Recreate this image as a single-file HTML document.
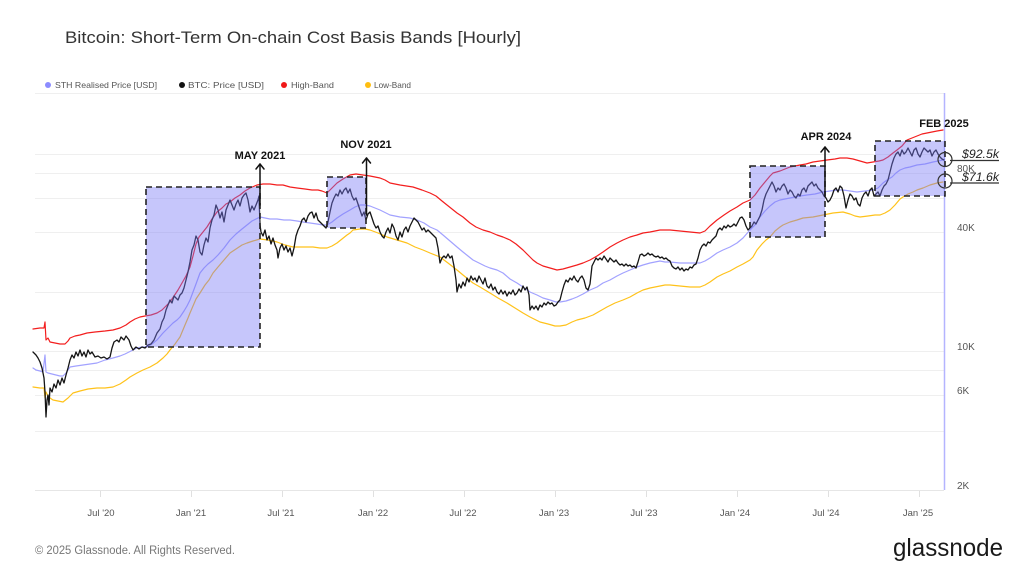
<!DOCTYPE html>
<html>
<head>
<meta charset="utf-8">
<style>
  html,body{margin:0;padding:0;background:#fff;}
  body{width:1024px;height:576px;overflow:hidden;}
  svg{display:block;}
  text{font-family:"Liberation Sans", sans-serif;}
</style>
</head>
<body>
<svg width="1024" height="576" viewBox="0 0 1024 576" xmlns="http://www.w3.org/2000/svg">
  <rect width="1024" height="576" fill="#fff"/>

  <!-- Title -->
  <text x="65" y="43" font-size="17" fill="#333" textLength="456" lengthAdjust="spacingAndGlyphs">Bitcoin: Short-Term On-chain Cost Basis Bands [Hourly]</text>

  <!-- Legend -->
  <g font-size="8.5" fill="#555">
    <circle cx="48" cy="85" r="3" fill="#8c8cff"/>
    <text x="55" y="88" textLength="102" lengthAdjust="spacingAndGlyphs">STH Realised Price [USD]</text>
    <circle cx="182" cy="85" r="3" fill="#111"/>
    <text x="188" y="88" textLength="76" lengthAdjust="spacingAndGlyphs">BTC: Price [USD]</text>
    <circle cx="284" cy="85" r="3" fill="#f01818"/>
    <text x="291" y="88" textLength="43" lengthAdjust="spacingAndGlyphs">High-Band</text>
    <circle cx="368" cy="85" r="3" fill="#ffbe10"/>
    <text x="374" y="88" textLength="37" lengthAdjust="spacingAndGlyphs">Low-Band</text>
  </g>

  <!-- Gridlines -->
  <g stroke="#efefef" stroke-width="1">
    <line x1="35" y1="93.5" x2="944" y2="93.5"/>
    <line x1="35" y1="154.5" x2="944" y2="154.5"/>
    <line x1="35" y1="173.5" x2="944" y2="173.5"/>
    <line x1="35" y1="198.5" x2="944" y2="198.5"/>
    <line x1="35" y1="232.5" x2="944" y2="232.5"/>
    <line x1="35" y1="292.5" x2="944" y2="292.5"/>
    <line x1="35" y1="351.5" x2="944" y2="351.5"/>
    <line x1="35" y1="370.5" x2="944" y2="370.5"/>
    <line x1="35" y1="395.5" x2="944" y2="395.5"/>
    <line x1="35" y1="431.5" x2="944" y2="431.5"/>
  </g>
  <!-- X axis -->
  <line x1="35" y1="490.5" x2="944" y2="490.5" stroke="#e6e6e6" stroke-width="1"/>
  <g stroke="#e0e0e0" stroke-width="1">
    <line x1="100.5" y1="491" x2="100.5" y2="497"/>
    <line x1="191.5" y1="491" x2="191.5" y2="497"/>
    <line x1="282.5" y1="491" x2="282.5" y2="497"/>
    <line x1="373.5" y1="491" x2="373.5" y2="497"/>
    <line x1="464.5" y1="491" x2="464.5" y2="497"/>
    <line x1="555.5" y1="491" x2="555.5" y2="497"/>
    <line x1="646.5" y1="491" x2="646.5" y2="497"/>
    <line x1="737.5" y1="491" x2="737.5" y2="497"/>
    <line x1="828.5" y1="491" x2="828.5" y2="497"/>
    <line x1="919.5" y1="491" x2="919.5" y2="497"/>
  </g>
  <g font-size="9.5" fill="#555" text-anchor="middle">
    <text x="101" y="516">Jul '20</text>
    <text x="191" y="516">Jan '21</text>
    <text x="281" y="516">Jul '21</text>
    <text x="373" y="516">Jan '22</text>
    <text x="463" y="516">Jul '22</text>
    <text x="554" y="516">Jan '23</text>
    <text x="644" y="516">Jul '23</text>
    <text x="735" y="516">Jan '24</text>
    <text x="826" y="516">Jul '24</text>
    <text x="918" y="516">Jan '25</text>
  </g>

  <!-- Y labels -->
  <g font-size="10" fill="#555">
    <text x="957" y="172">80K</text>
    <text x="957" y="231">40K</text>
    <text x="957" y="350">10K</text>
    <text x="957" y="394">6K</text>
    <text x="957" y="489">2K</text>
  </g>

  <!-- Current date vertical line -->
  <line x1="944.5" y1="93" x2="944.5" y2="490" stroke="#b4b4ff" stroke-width="1.5"/>

  <!-- Series -->
  <g fill="none" stroke-linejoin="round" stroke-linecap="round">
    <!-- Low band -->
    <polyline stroke="#ffc21a" stroke-width="1.2" points="33,387 40,388 44,388 45,398 46,392 48,396 50,398 53,400 58,401 63,402 68,398 73,393 80,391 88,389 97,388 105,388 113,387 120,384 126,380 130,377 137,373 143,370 150,367 157,363 163,358 167,354 170,350 175,344 180,337 185,325 188,318 190,313 193,306 196,299 200,293 205,285 209,280 213,273 218,267 224,260 230,253 236,249 242,245 247,243 253,241 260,239 268,240 277,242 285,245 293,247 300,247 307,247 313,247 320,248 327,248 332,246 337,243 342,239 347,235 350,233 353,230 360,229 365,229 370,230 378,233 387,237 397,240 407,243 415,247 423,250 430,253 440,257 448,263 457,270 463,275 468,279 473,283 480,287 490,293 498,298 507,303 515,308 523,313 530,317 540,322 548,324 555,326 560,326 566,325 572,322 577,320 585,318 593,315 600,311 607,307 615,303 623,300 630,297 637,293 643,290 650,288 655,287 660,286 665,285 670,285 680,286 690,287 700,287 705,285 710,282 717,277 723,274 730,271 737,267 743,264 750,260 753,257 757,250 762,244 766,240 770,237 775,231 780,227 783,225 790,222 797,220 803,218 813,217 823,215 833,213 843,212 850,214 855,216 860,217 868,216 875,215 880,215 885,213 890,210 895,205 900,199 903,197 908,194 913,192 917,190 923,188 930,185 937,183 943,182"/>
    <!-- STH realised -->
    <polyline stroke="#a2a2ff" stroke-width="1.2" points="33,368 36,370 40,371 43,372 45,355 46,372 48,373 52,374 56,375 60,376 63,376 66,373 70,367 76,366 83,365 90,364 97,363 105,360 113,358 120,356 125,354 131,351 137,348 142,347 147,347 152,344 157,340 163,333 168,328 173,323 177,320 180,317 184,311 187,306 190,300 193,292 196,284 200,273 204,268 208,264 213,260 218,255 224,248 230,240 236,234 242,229 247,225 252,221 256,219 260,217 265,218 270,219 277,219 284,220 290,220 297,221 303,222 310,223 317,224 323,225 327,225 332,222 337,218 343,214 350,210 355,207 360,205 365,205 370,206 380,210 390,215 400,217 410,218 417,220 424,223 430,227 437,230 443,235 450,241 457,247 463,252 468,256 473,260 479,263 485,266 490,268 497,270 503,273 510,279 517,283 523,287 530,292 537,295 543,298 550,300 556,302 560,302 566,301 572,299 577,297 583,294 590,290 597,287 603,283 610,280 617,276 623,273 630,270 637,267 643,265 650,263 655,262 660,261 665,262 670,262 680,263 690,263 700,263 705,261 710,258 717,253 723,250 730,247 737,243 743,238 750,230 755,225 760,217 765,211 770,206 775,202 780,200 790,198 800,196 807,195 815,194 823,192 830,191 837,190 843,190 850,191 857,192 865,191 873,190 878,188 883,183 887,180 892,177 896,173 900,170 905,168 910,167 917,165 925,164 933,162 938,161 943,160"/>
    <!-- High band -->
    <polyline stroke="#f31e1e" stroke-width="1.2" points="33,329 40,328 44,328 45,322 46,340 48,338 50,342 55,343 60,344 65,344 68,341 70,338 75,336 80,335 87,333 95,332 105,331 113,330 120,328 126,325 130,322 135,319 140,317 145,316 151,315 157,313 162,310 166,306 170,302 174,296 178,290 182,283 186,276 190,267 193,256 196,244 199,237 203,232 207,227 212,219 217,212 222,208 226,204 230,202 235,198 240,195 245,191 250,188 257,185 263,184 270,184 277,185 283,185 290,187 297,188 305,189 312,190 318,190 322,191 327,193 332,188 337,183 343,179 350,175 356,174 363,175 370,176 380,178 385,180 390,183 400,185 413,187 422,190 430,193 436,196 442,201 447,205 452,209 457,213 463,217 470,223 476,227 483,230 490,232 497,235 503,237 510,240 516,244 523,250 528,255 533,260 537,263 543,266 550,268 557,270 563,269 570,267 577,265 583,263 590,260 597,256 603,252 610,247 617,243 623,240 630,237 637,235 643,233 650,232 655,231 660,230 665,230 670,230 680,231 690,232 700,233 705,231 710,226 717,220 724,215 730,211 737,207 743,203 750,200 755,195 760,188 765,182 770,176 773,173 780,171 790,167 800,165 806,164 813,162 820,161 827,160 835,159 840,158 847,158 853,159 860,161 867,163 873,162 879,161 883,160 888,157 893,153 897,150 902,146 907,140 912,138 917,136 922,134 927,133 932,132 937,131 943,130"/>
    <!-- BTC price -->
    <polyline stroke="#151515" stroke-width="1.3" points="33,352 36,355 38,358 40,362 42,368 44,378 45,392 46,417 47,400 48,395 49,405 50,388 52,392 54,384 56,388 58,380 60,385 62,378 64,383 66,375 68,368 70,360 72,355 74,358 76,352 78,356 80,350 82,356 84,352 86,357 88,350 90,354 92,352 95,357 98,356 101,358 104,357 107,359 110,357 112,348 114,342 117,340 119,342 121,337 124,340 126,336 129,340 131,346 133,350 136,347 139,349 142,347 145,348 148,345 151,344 154,340 157,333 160,329 162,322 164,318 166,310 168,305 170,300 172,303 174,296 176,298 178,300 180,295 182,293 184,288 186,280 188,272 190,262 192,250 194,245 196,236 198,240 200,252 202,255 204,245 206,238 208,242 210,228 212,220 214,215 216,205 218,210 220,218 222,212 224,222 226,210 228,205 230,200 232,205 234,210 236,204 238,200 240,206 242,198 244,195 246,193 248,200 250,212 252,206 254,210 256,205 258,200 259,196 260,225 261,232 263,236 265,230 267,240 269,236 271,244 273,238 275,245 277,250 278,258 280,248 282,244 284,250 286,246 288,252 290,248 292,256 294,248 296,236 298,230 300,226 302,220 304,218 306,222 308,216 310,213 312,212 314,218 316,213 318,220 320,222 322,224 324,226 326,228 328,222 330,212 332,203 334,198 336,194 338,196 340,190 342,194 344,190 346,188 348,193 350,189 352,196 354,200 356,198 358,204 360,210 362,216 364,212 366,220 368,214 370,212 372,218 374,224 376,228 378,226 380,232 382,236 384,238 386,232 388,228 390,233 392,224 394,228 396,236 398,240 400,232 402,237 404,230 406,227 408,232 410,226 412,222 414,218 416,220 418,222 420,226 422,230 424,228 426,232 428,230 430,232 432,234 434,236 436,238 438,248 440,263 442,258 444,256 446,258 448,254 450,258 452,256 454,266 456,280 457,292 459,284 461,288 463,282 465,286 467,278 469,282 471,276 473,280 475,278 477,282 479,276 481,280 483,284 485,278 487,286 489,288 491,284 493,290 495,287 497,292 499,294 501,290 503,294 505,291 507,296 509,292 511,294 513,290 515,295 517,293 519,289 521,292 523,286 525,290 527,287 529,295 530,310 532,306 534,309 536,306 538,310 540,305 542,307 544,303 546,305 548,302 550,304 552,303 554,306 556,305 558,302 560,300 562,292 564,285 566,280 568,282 570,278 572,280 574,276 576,280 578,282 580,278 582,276 584,280 586,288 588,290 590,284 592,266 594,262 596,258 598,260 600,258 602,260 604,256 606,259 608,262 610,258 612,260 614,262 616,260 618,263 620,265 622,264 624,266 626,264 628,266 630,265 632,267 634,266 636,268 638,262 640,255 642,254 644,256 646,255 648,253 650,255 652,254 654,256 656,257 658,256 660,258 662,257 664,259 666,258 668,260 670,261 672,266 674,268 676,269 678,267 680,270 682,268 684,271 686,269 688,270 690,267 692,268 694,265 696,264 698,258 700,250 702,246 704,244 706,246 708,242 710,243 712,240 714,238 716,236 718,230 720,228 722,230 724,226 726,228 728,225 730,227 732,226 734,224 736,226 738,222 740,218 742,217 744,220 746,226 748,230 750,228 752,226 754,222 756,224 758,220 760,216 762,210 764,200 766,194 768,190 770,186 772,182 774,186 776,192 778,188 780,190 782,186 784,184 786,188 788,194 790,190 792,192 794,196 796,198 798,194 800,196 802,190 804,188 806,192 808,186 810,184 812,182 814,186 816,184 818,188 820,190 822,192 824,196 826,198 828,202 830,200 832,196 834,190 836,188 838,192 840,186 842,188 844,196 846,208 848,200 850,194 852,196 854,200 856,198 858,204 860,206 862,198 864,194 866,192 868,196 870,190 872,188 874,196 876,194 878,192 880,196 882,190 884,186 886,184 888,180 890,172 892,164 894,158 896,154 898,152 900,156 902,150 904,154 906,152 908,148 910,152 912,156 914,150 916,148 918,154 920,157 922,152 924,148 926,150 928,152 930,150 932,156 934,152 936,150 938,154 940,157 942,159 944,160"/>
  </g>

  <!-- Highlight boxes -->
  <g fill="rgba(120,120,245,0.42)" stroke="#222" stroke-width="1.6" stroke-dasharray="6,4">
    <rect x="146" y="187" width="114" height="160"/>
    <rect x="327" y="177" width="39" height="51"/>
    <rect x="750" y="166" width="75" height="71"/>
    <rect x="875" y="141" width="70" height="55"/>
  </g>

  <!-- Arrows -->
  <g stroke="#111" stroke-width="1.5" fill="none" stroke-linecap="round" stroke-linejoin="round">
    <line x1="260" y1="205" x2="260" y2="164"/>
    <polyline points="256,169 260,164 264,169"/>
    <line x1="366.5" y1="215" x2="366.5" y2="158"/>
    <polyline points="362.5,163 366.5,158 370.5,163"/>
    <line x1="825" y1="196" x2="825" y2="147"/>
    <polyline points="821,152 825,147 829,152"/>
  </g>
  <g font-size="11" font-weight="bold" fill="#111" text-anchor="middle">
    <text x="260" y="159">MAY 2021</text>
    <text x="366" y="148">NOV 2021</text>
    <text x="826" y="140">APR 2024</text>
    <text x="944" y="127">FEB 2025</text>
  </g>

  <!-- Value markers -->
  <g stroke="#333" stroke-width="1.2" fill="none">
    <circle cx="945" cy="159.5" r="7"/>
    <circle cx="945" cy="181" r="7"/>
    <line x1="950" y1="160.5" x2="999" y2="160.5"/>
    <line x1="950" y1="183" x2="999" y2="183"/>
  </g>
  <g font-size="12" font-style="italic" fill="#222">
    <text x="962" y="158" textLength="37" lengthAdjust="spacingAndGlyphs">$92.5k</text>
    <text x="962" y="181" textLength="37" lengthAdjust="spacingAndGlyphs">$71.6k</text>
  </g>

  <!-- Footer -->
  <text x="35" y="554" font-size="11.5" fill="#777" textLength="200" lengthAdjust="spacingAndGlyphs">© 2025 Glassnode. All Rights Reserved.</text>
  <text x="893" y="556" font-size="25" fill="#1a1a1a" textLength="110" lengthAdjust="spacingAndGlyphs">glassnode</text>
</svg>
</body>
</html>
